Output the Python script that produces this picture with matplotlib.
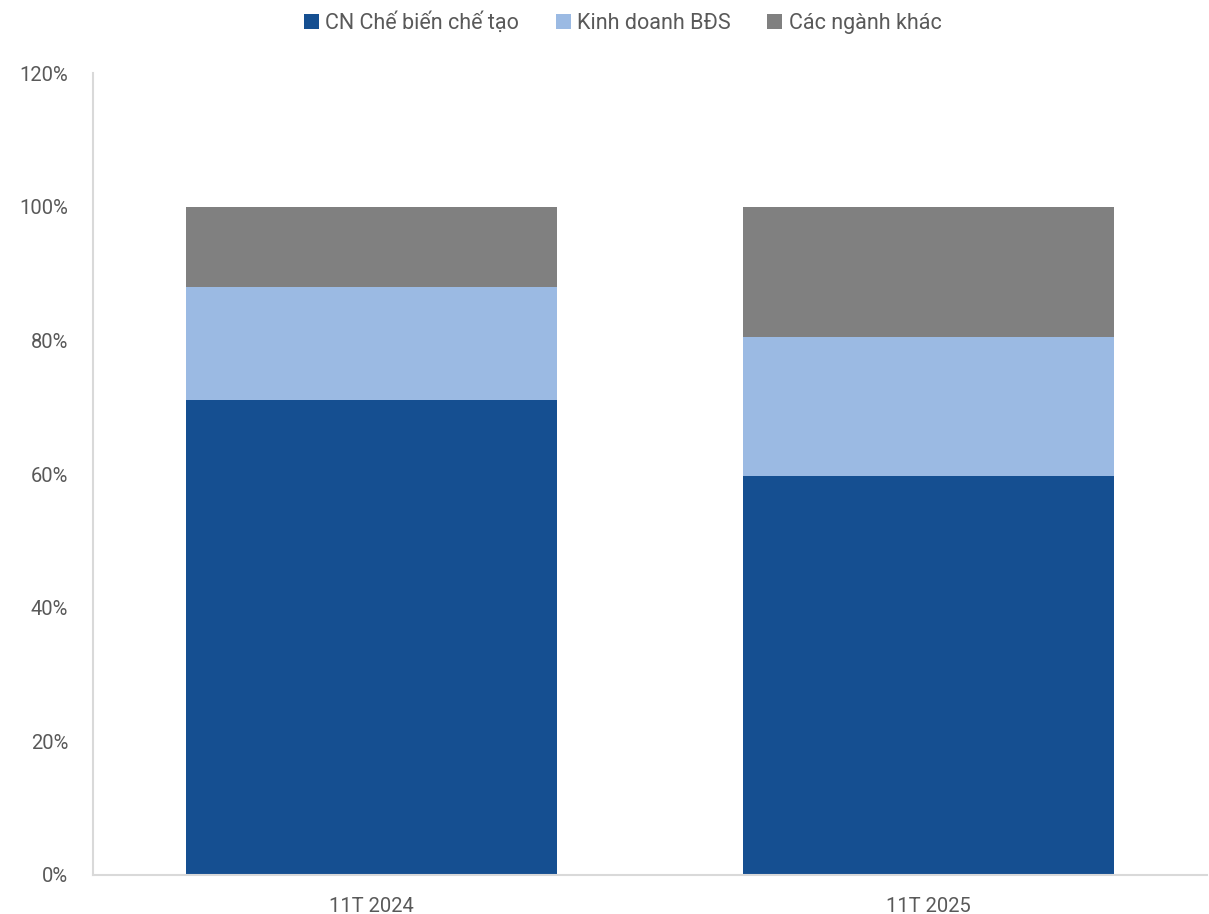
import numpy as np
import matplotlib.pyplot as plt
from matplotlib.ticker import FuncFormatter

plt.rcParams['font.family'] = ['Roboto', 'DejaVu Sans']

categories = ['11T 2024', '11T 2025']
che_bien = [71.1, 59.7]
bds = [16.9, 20.8]
khac = [12.0, 19.5]
labels = ['CN Chế biến chế tạo', 'Kinh doanh BĐS', 'Các ngành khác']
colors = ['#154F91', '#9BBAE3', '#808080']

fig = plt.figure(figsize=(12.09, 9.14), dpi=100)
ax = fig.add_axes([0.077, 0.0427, 0.921, 0.877])

x = np.arange(len(categories))
w = 0.667
bottom = np.zeros(len(categories))
for vals, lab, col in zip([che_bien, bds, khac], labels, colors):
    ax.bar(x, vals, w, bottom=bottom, color=col, label=lab, zorder=2)
    bottom += np.array(vals)

ax.set_xlim(-0.5, 1.5)
ax.set_ylim(0, 120)
ax.set_yticks(np.arange(0, 121, 20))
ax.yaxis.set_major_formatter(FuncFormatter(lambda v, p: f'{v:.0f}%'))
ax.set_xticks(x)
ax.set_xticklabels(categories)

for s in ['top', 'right']:
    ax.spines[s].set_visible(False)
for s in ['left', 'bottom']:
    ax.spines[s].set_color('#D9D9D9')
    ax.spines[s].set_linewidth(1.5)
ax.tick_params(axis='both', length=0, colors='#595959', labelsize=14.5)
ax.tick_params(axis='y', pad=18)
ax.tick_params(axis='x', pad=16)

leg = fig.legend(loc='upper center', bbox_to_anchor=(0.515, 1.008), ncol=3, frameon=False,
                 fontsize=15.5, handlelength=0.7, handleheight=0.7, handletextpad=0.3,
                 columnspacing=1.7, labelcolor='#595959')

fig.savefig('out.png', dpi=100)
